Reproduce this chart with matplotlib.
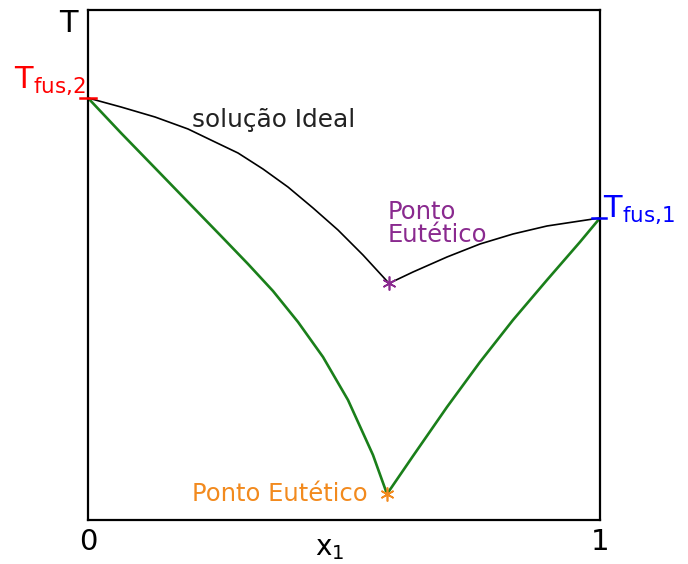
import matplotlib
matplotlib.use("Agg")
import matplotlib.pyplot as plt

plt.rcParams['font.family'] = ['DejaVu Sans']
plt.rcParams['mathtext.fontset'] = 'dejavusans'

# Liquidus curves: composition x1 vs temperature (arbitrary units)
ideal_left_x = [0.0, 0.0645, 0.1309, 0.1953, 0.2441, 0.2930, 0.3418, 0.3906, 0.4395,
                0.4883, 0.5371, 0.588]
ideal_left_t = [0.8275, 0.8098, 0.7902, 0.7667, 0.7431, 0.7196, 0.6882, 0.6529, 0.6118,
                0.5686, 0.5196, 0.464]
ideal_right_x = [0.588, 0.6348, 0.7012, 0.7656, 0.8301, 0.8965, 0.9609, 1.0]
ideal_right_t = [0.464, 0.4863, 0.5157, 0.5412, 0.5608, 0.5765, 0.5863, 0.5922]

real_left_x = [0.0, 0.0645, 0.1309, 0.1953, 0.2598, 0.3125, 0.3613, 0.4102, 0.4590,
               0.5078, 0.5566, 0.584]
real_left_t = [0.8275, 0.7588, 0.6902, 0.6235, 0.5569, 0.5020, 0.4490, 0.3882, 0.3196,
               0.2353, 0.1275, 0.051]
real_right_x = [0.584, 0.6348, 0.7012, 0.7656, 0.8301, 0.8965, 0.9609, 1.0]
real_right_t = [0.051, 0.1255, 0.2216, 0.3098, 0.3922, 0.4706, 0.5451, 0.5922]

t_fus2 = 0.8275
t_fus1 = 0.5922
eut_ideal = (0.588, 0.464)
eut_real = (0.584, 0.051)

fig = plt.figure(figsize=(6.88, 5.64), dpi=100)
ax = fig.add_axes([88 / 688, 44 / 564, 512 / 688, 510 / 564])
ax.set_xlim(0, 1)
ax.set_ylim(0, 1)

ax.plot(ideal_left_x, ideal_left_t, color='black', lw=1.2, solid_joinstyle='round')
ax.plot(ideal_right_x, ideal_right_t, color='black', lw=1.2, solid_joinstyle='round')
ax.plot(real_left_x, real_left_t, color='#1a7f1a', lw=1.9, solid_joinstyle='round')
ax.plot(real_right_x, real_right_t, color='#1a7f1a', lw=1.9, solid_joinstyle='round')

ast = (6, 2, 0)
ax.plot(*eut_ideal, marker=ast, color='#8a2a8f', ms=10, mew=1.2, zorder=5)
ax.plot(*eut_real, marker=ast, color='#f28a1e', ms=10, mew=1.2, zorder=5)

# Melting point ticks crossing the frame
ax.plot([-0.016, 0.016], [t_fus2, t_fus2], color='red', lw=1.8, clip_on=False, zorder=6)
ax.plot([0.984, 1.012], [t_fus1, t_fus1], color='blue', lw=1.8, clip_on=False, zorder=6)

ax.text(-0.004, t_fus2 + 0.002, r'T$_{\mathrm{fus{,}2}}$', color='red', fontsize=22,
        ha='right', va='bottom', clip_on=False)
ax.text(1.006, t_fus1 - 0.016, r'T$_{\mathrm{fus{,}1}}$', color='blue', fontsize=22,
        ha='left', va='bottom', clip_on=False)

ax.text(0.203, 0.784, 'solução Ideal', color='#222222', fontsize=17.8, ha='left', va='center')
ax.text(0.586, 0.627, 'Ponto\nEutético', color='#8a2a8f', fontsize=17.5, ha='left', va='top',
        linespacing=0.92)
ax.text(0.547, eut_real[1], 'Ponto Eutético', color='#f28a1e', fontsize=17.5, ha='right',
        va='center')

ax.set_xticks([0, 1])
ax.set_xticklabels(['0', '1'], fontsize=21)
ax.set_yticks([])
ax.tick_params(axis='x', length=0, pad=6)
fig.text(330 / 688, 2 / 564, r'x$_{\mathrm{1}}$', fontsize=20, ha='center', va='bottom')
ax.text(-0.02, 1.002, 'T', fontsize=22, ha='right', va='top', transform=ax.transAxes)

for s in ax.spines.values():
    s.set_linewidth(1.6)

fig.savefig('out.png', dpi=100)
